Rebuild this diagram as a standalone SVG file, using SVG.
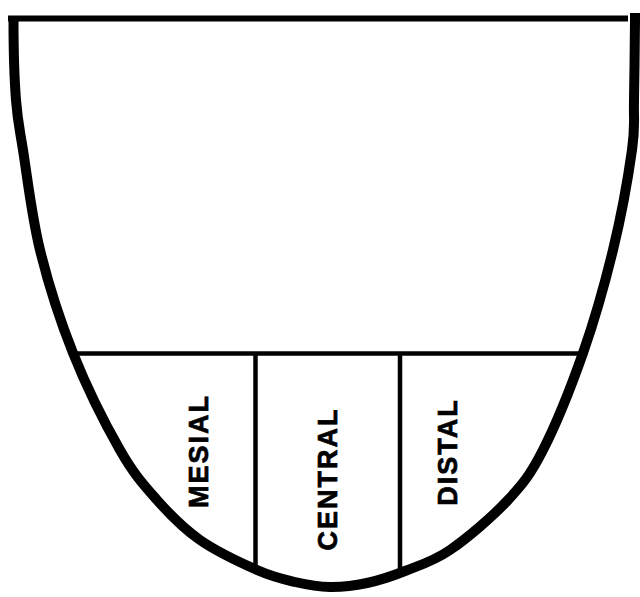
<svg xmlns="http://www.w3.org/2000/svg" width="640" height="597" viewBox="0 0 640 597">
  <style>
    .outline { fill: none; stroke: #000; stroke-width: 10; stroke-linejoin: miter; }
    .top { stroke: #000; stroke-width: 6; }
    .div { stroke: #000; stroke-width: 4.5; fill: none; }
    .lbl { font-family: "Liberation Sans", Arial, sans-serif; font-weight: bold; font-size: 27px; letter-spacing: 2px; fill: #000; stroke: #000; stroke-width: 0.7; text-anchor: middle; }
  </style>
  <rect width="640" height="597" fill="#fff"/>
  <g id="outline">
    <line class="top" x1="8" y1="18.5" x2="628" y2="18.5"/>
    <path class="outline" d="M13.5,16 L13.5,20 C13.5,33.3 14.3,78.3 16,100 C17.7,121.7 19,125 23,150 C27,175 31.7,216.2 40,250 C48.3,283.8 59.7,319.7 73,353 C86.3,386.3 106,425.5 120,450 C134,474.5 143.7,485 157,500 C170.3,515 183.3,528.3 200,540 C216.7,551.7 241.2,563 257,570 C272.8,577 282.8,579.2 295,582 C307.2,584.8 318,586.8 330,587 C342,587.2 354.5,585.7 367,583 C379.5,580.3 391.2,576.5 405,571 C418.8,565.5 432.8,561.8 450,550 C467.2,538.2 492.5,516.7 508,500 C523.5,483.3 530.5,474.5 543,450 C555.5,425.5 571.3,386.3 583,353 C594.7,319.7 604.8,283.8 613,250 C621.2,216.2 628.5,175 632,150 C635.5,125 633.5,121.7 634,100 C634.5,78.3 634.8,33.3 635,20 L635,13"/>
  </g>
  <g id="connectors">
    <line class="div" x1="74" y1="353.5" x2="584" y2="353.5"/>
    <line class="div" x1="255.5" y1="353.5" x2="255.5" y2="570"/>
    <line class="div" x1="400" y1="353.5" x2="400" y2="574"/>
  </g>
  <g id="mesial">
    <text class="lbl" transform="translate(208,451) rotate(-90)">MESIAL</text>
  </g>
  <g id="central">
    <text class="lbl" transform="translate(337,479) rotate(-90)">CENTRAL</text>
  </g>
  <g id="distal">
    <text class="lbl" transform="translate(457,452) rotate(-90)">DISTAL</text>
  </g>
</svg>
